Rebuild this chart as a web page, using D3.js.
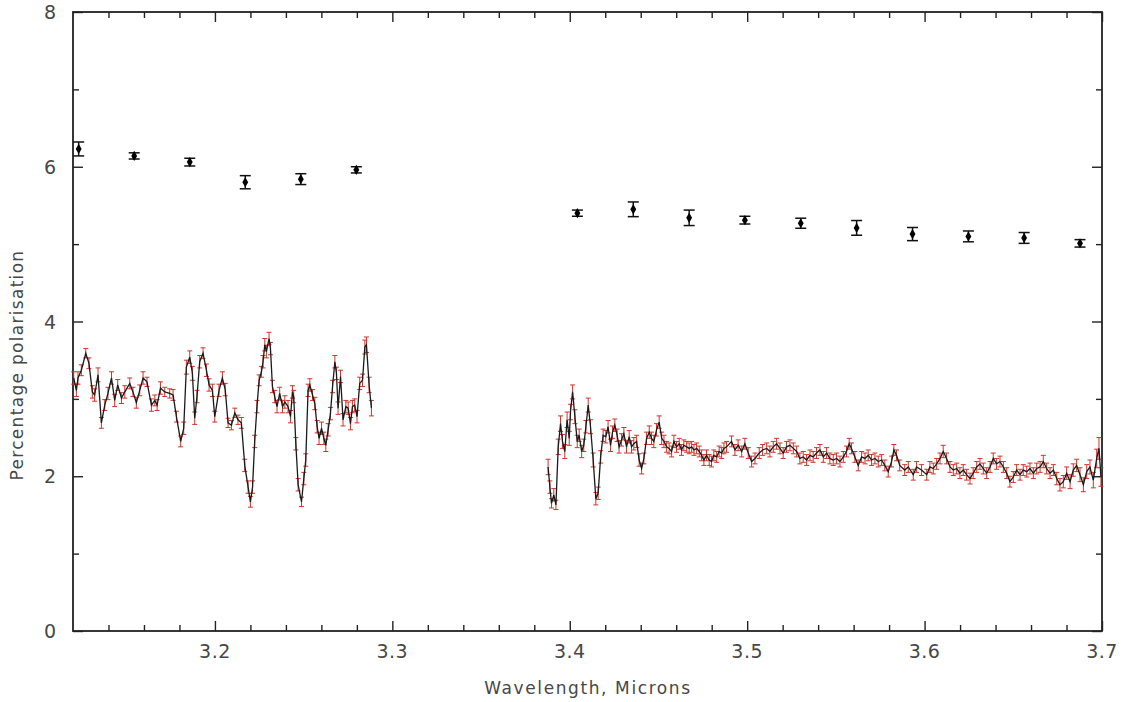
<!DOCTYPE html>
<html>
<head>
<meta charset="utf-8">
<script src="https://cdn.jsdelivr.net/npm/d3@7"></script>
<style>
  body { margin: 0; background: #fff; }
  text { font-family: "DejaVu Sans", sans-serif; fill: #474747; }
</style>
</head>
<body>
<script>
// binned polarisation: [wavelength, percent, error]
const binnedLeft = [
  [3.1232, 6.23, 0.09], [3.1545, 6.14, 0.04], [3.1858, 6.06, 0.05],
  [3.2171, 5.80, 0.085], [3.2484, 5.84, 0.07], [3.2797, 5.96, 0.04]
];
const binnedRight = [
  [3.4043, 5.40, 0.04], [3.4358, 5.45, 0.095], [3.4673, 5.34, 0.10],
  [3.4987, 5.31, 0.05], [3.5302, 5.27, 0.065], [3.5617, 5.21, 0.095],
  [3.5932, 5.13, 0.085], [3.6247, 5.10, 0.07], [3.6561, 5.08, 0.07],
  [3.6876, 5.01, 0.048]
];

// full resolution spectrum: [wavelength, percent, error]
const specLeft = [
  [3.1204,3.27,0.08],[3.1219,3.11,0.08],[3.1228,3.27,0.08],[3.1247,3.37,0.07],[3.1272,3.59,0.06],
  [3.1290,3.46,0.07],[3.1309,3.09,0.08],[3.1322,3.05,0.08],[3.1341,3.31,0.09],[3.1360,2.69,0.07],
  [3.1379,2.92,0.07],[3.1397,3.07,0.08],[3.1417,3.27,0.08],[3.1435,2.98,0.08],[3.1452,3.18,0.07],
  [3.1473,3.01,0.07],[3.1492,3.09,0.08],[3.1520,3.20,0.07],[3.1538,3.09,0.06],[3.1557,2.95,0.07],
  [3.1576,3.11,0.07],[3.1595,3.27,0.08],[3.1617,3.22,0.06],[3.1642,2.92,0.08],[3.1661,2.98,0.07],
  [3.1674,2.92,0.07],[3.1693,3.14,0.08],[3.1717,3.09,0.06],[3.1745,3.07,0.06],[3.1764,3.05,0.07],
  [3.1783,2.77,0.07],[3.1807,2.45,0.07],[3.1824,2.62,0.08],[3.1839,3.41,0.09],[3.1858,3.54,0.08],
  [3.1873,3.33,0.09],[3.1886,2.75,0.08],[3.1899,3.03,0.08],[3.1914,3.48,0.08],[3.1933,3.59,0.07],
  [3.1952,3.37,0.08],[3.1967,3.18,0.08],[3.1986,3.11,0.08],[3.1999,2.77,0.07],[3.2023,3.11,0.08],
  [3.2042,3.27,0.08],[3.2058,3.12,0.08],[3.2074,2.69,0.06],[3.2093,2.66,0.06],[3.2112,2.82,0.06],
  [3.2130,2.73,0.06],[3.2149,2.69,0.07],[3.2168,2.14,0.08],[3.2187,1.86,0.08],[3.2200,1.67,0.07],
  [3.2212,1.86,0.08],[3.2224,2.45,0.08],[3.2237,2.90,0.08],[3.2249,3.24,0.07],[3.2262,3.35,0.07],
  [3.2271,3.48,0.08],[3.2281,3.70,0.08],[3.2290,3.61,0.08],[3.2305,3.78,0.08],[3.2313,3.65,0.08],
  [3.2324,3.16,0.08],[3.2337,3.03,0.08],[3.2350,2.90,0.08],[3.2365,3.07,0.08],[3.2381,2.90,0.08],
  [3.2394,2.96,0.08],[3.2412,2.90,0.08],[3.2426,2.77,0.08],[3.2437,3.09,0.08],[3.2444,3.03,0.08],
  [3.2456,2.42,0.08],[3.2469,1.89,0.08],[3.2488,1.67,0.06],[3.2501,1.97,0.08],[3.2512,2.21,0.08],
  [3.2525,3.11,0.08],[3.2535,3.18,0.08],[3.2550,3.05,0.07],[3.2563,2.94,0.08],[3.2576,2.64,0.08],
  [3.2587,2.49,0.08],[3.2601,2.62,0.08],[3.2614,2.49,0.08],[3.2625,2.40,0.08],[3.2638,2.60,0.08],
  [3.2651,2.81,0.08],[3.2663,3.16,0.08],[3.2676,3.48,0.08],[3.2685,3.33,0.08],[3.2694,2.88,0.08],
  [3.2708,3.29,0.08],[3.2722,2.73,0.08],[3.2738,2.90,0.08],[3.2751,2.88,0.08],[3.2764,2.68,0.08],
  [3.2775,2.90,0.08],[3.2788,2.92,0.08],[3.2801,2.77,0.08],[3.2816,3.20,0.08],[3.2832,3.24,0.08],
  [3.2845,3.67,0.09],[3.2854,3.70,0.10],[3.2869,3.18,0.10],[3.2882,2.88,0.10]
];

const specRight = [
  [3.3878,2.12,0.10],[3.3888,1.86,0.08],[3.3897,1.65,0.06],[3.3910,1.76,0.08],[3.3922,1.63,0.06],
  [3.3935,2.38,0.10],[3.3948,2.68,0.10],[3.3959,2.45,0.09],[3.3972,2.32,0.09],[3.3985,2.73,0.10],
  [3.3997,2.49,0.09],[3.4004,2.83,0.10],[3.4016,3.09,0.09],[3.4029,2.77,0.09],[3.4042,2.45,0.08],
  [3.4053,2.53,0.08],[3.4067,2.32,0.08],[3.4079,2.40,0.08],[3.4091,2.64,0.08],[3.4104,2.92,0.09],
  [3.4117,2.64,0.09],[3.4132,2.21,0.09],[3.4147,1.71,0.08],[3.4160,1.78,0.08],[3.4174,2.25,0.08],
  [3.4188,2.53,0.08],[3.4203,2.51,0.08],[3.4216,2.64,0.08],[3.4230,2.40,0.08],[3.4241,2.57,0.08],
  [3.4254,2.66,0.08],[3.4267,2.53,0.08],[3.4278,2.38,0.08],[3.4292,2.47,0.08],[3.4305,2.55,0.08],
  [3.4320,2.38,0.08],[3.4335,2.51,0.08],[3.4348,2.38,0.08],[3.4361,2.42,0.08],[3.4377,2.45,0.08],
  [3.4391,2.21,0.08],[3.4405,2.10,0.07],[3.4418,2.23,0.07],[3.4433,2.49,0.08],[3.4448,2.57,0.08],
  [3.4461,2.49,0.08],[3.4474,2.45,0.08],[3.4489,2.60,0.08],[3.4504,2.70,0.08],[3.4518,2.49,0.08],
  [3.4531,2.45,0.08],[3.4546,2.38,0.07],[3.4560,2.36,0.07],[3.4574,2.32,0.07],[3.4587,2.45,0.08],
  [3.4602,2.38,0.07],[3.4617,2.42,0.07],[3.4630,2.34,0.07],[3.4643,2.40,0.07],[3.4659,2.38,0.07],
  [3.4673,2.36,0.07],[3.4687,2.38,0.07],[3.4700,2.34,0.07],[3.4715,2.36,0.07],[3.4730,2.32,0.07],
  [3.4743,2.27,0.07],[3.4756,2.21,0.07],[3.4771,2.27,0.07],[3.4786,2.21,0.07],[3.4799,2.19,0.07],
  [3.4812,2.27,0.07],[3.4828,2.25,0.07],[3.4842,2.32,0.07],[3.4856,2.30,0.07],[3.4869,2.36,0.07],
  [3.4884,2.38,0.07],[3.4912,2.45,0.07],[3.4931,2.34,0.07],[3.4949,2.40,0.07],[3.4969,2.32,0.07],
  [3.4987,2.42,0.07],[3.5006,2.30,0.07],[3.5025,2.19,0.07],[3.5044,2.23,0.07],[3.5068,2.30,0.07],
  [3.5087,2.34,0.07],[3.5110,2.36,0.07],[3.5128,2.32,0.07],[3.5147,2.38,0.07],[3.5166,2.42,0.07],
  [3.5185,2.36,0.07],[3.5203,2.30,0.07],[3.5222,2.38,0.07],[3.5241,2.40,0.07],[3.5260,2.36,0.07],
  [3.5279,2.32,0.07],[3.5297,2.23,0.07],[3.5316,2.25,0.07],[3.5335,2.21,0.07],[3.5354,2.27,0.07],
  [3.5372,2.25,0.07],[3.5391,2.30,0.07],[3.5410,2.34,0.07],[3.5429,2.25,0.07],[3.5448,2.30,0.07],
  [3.5466,2.23,0.07],[3.5485,2.21,0.07],[3.5504,2.23,0.07],[3.5523,2.19,0.07],[3.5542,2.25,0.07],
  [3.5560,2.32,0.07],[3.5575,2.42,0.07],[3.5588,2.36,0.07],[3.5607,2.25,0.07],[3.5626,2.14,0.07],
  [3.5645,2.25,0.07],[3.5664,2.23,0.07],[3.5682,2.27,0.07],[3.5701,2.21,0.07],[3.5720,2.23,0.07],
  [3.5739,2.19,0.07],[3.5758,2.21,0.07],[3.5776,2.14,0.07],[3.5795,2.06,0.07],[3.5814,2.19,0.07],
  [3.5827,2.34,0.07],[3.5842,2.27,0.07],[3.5860,2.14,0.07],[3.5888,2.08,0.07],[3.5908,2.12,0.07],
  [3.5936,2.02,0.07],[3.5955,2.12,0.07],[3.5983,2.08,0.07],[3.6012,2.02,0.07],[3.6030,2.12,0.07],
  [3.6049,2.10,0.07],[3.6068,2.16,0.07],[3.6087,2.23,0.07],[3.6105,2.32,0.08],[3.6124,2.23,0.07],
  [3.6143,2.12,0.07],[3.6162,2.08,0.07],[3.6181,2.10,0.07],[3.6199,2.04,0.07],[3.6218,2.08,0.07],
  [3.6237,2.02,0.07],[3.6256,1.97,0.07],[3.6274,2.04,0.07],[3.6294,2.12,0.07],[3.6312,2.16,0.07],
  [3.6331,2.10,0.07],[3.6350,2.04,0.07],[3.6369,2.12,0.07],[3.6387,2.23,0.07],[3.6406,2.16,0.07],
  [3.6425,2.19,0.07],[3.6444,2.12,0.07],[3.6463,2.04,0.07],[3.6481,1.93,0.07],[3.6500,1.99,0.07],
  [3.6519,2.08,0.07],[3.6538,2.02,0.07],[3.6556,2.08,0.07],[3.6576,2.06,0.07],[3.6594,2.10,0.07],
  [3.6613,2.04,0.07],[3.6632,2.10,0.07],[3.6651,2.12,0.07],[3.6669,2.19,0.08],[3.6688,2.10,0.07],
  [3.6707,2.04,0.07],[3.6726,2.08,0.07],[3.6745,1.97,0.08],[3.6763,1.89,0.08],[3.6782,1.93,0.08],
  [3.6801,2.04,0.08],[3.6820,1.93,0.09],[3.6838,2.08,0.08],[3.6857,2.14,0.08],[3.6876,2.02,0.09],
  [3.6895,1.89,0.09],[3.6914,2.06,0.09],[3.6932,2.12,0.09],[3.6951,1.95,0.10],[3.6970,2.23,0.12],
  [3.6983,2.36,0.14],[3.6994,1.99,0.12]
];

const xTicks = [3.2, 3.3, 3.4, 3.5, 3.6, 3.7];
const yTicks = [0, 2, 4, 6, 8];

const width = 1133, height = 702;
const margin = {top: 12, right: 31, bottom: 71, left: 73};

const svg = d3.select("body")
    .append("svg")
    .attr("width", width)
    .attr("height", height);

const x = d3.scaleLinear()
    .domain([3.12, 3.7])
    .range([margin.left, width - margin.right]);

const y = d3.scaleLinear()
    .domain([0, 8])
    .range([height - margin.bottom, margin.top]);

const x0 = margin.left, x1 = width - margin.right;
const y0 = height - margin.bottom, y1 = margin.top;

// ticks, all pointing inward, on every side
const xMinor = d3.range(3.14, 3.7, 0.02).filter(v => Math.abs(v * 10 - Math.round(v * 10)) > 0.01);
const yMinor = [1, 3, 5, 7];

function drawTicks(g, axisFn, scale, values, size, pos) {
    g.append("g")
        .attr("transform", pos)
        .call(axisFn(scale).tickValues(values).tickSize(size).tickFormat(""))
        .call(a => a.select(".domain").remove())
        .selectAll("line").attr("stroke", "#222").attr("stroke-width", 1.4);
}

const axes = svg.append("g");
drawTicks(axes, d3.axisBottom, x, xTicks, -10, `translate(0,${y0})`);
drawTicks(axes, d3.axisBottom, x, xMinor, -6, `translate(0,${y0})`);
drawTicks(axes, d3.axisTop, x, xTicks, -10, `translate(0,${y1})`);
drawTicks(axes, d3.axisTop, x, xMinor, -6, `translate(0,${y1})`);
drawTicks(axes, d3.axisLeft, y, yTicks, -10, `translate(${x0},0)`);
drawTicks(axes, d3.axisLeft, y, yMinor, -6, `translate(${x0},0)`);
drawTicks(axes, d3.axisRight, y, yTicks, -10, `translate(${x1},0)`);
drawTicks(axes, d3.axisRight, y, yMinor, -6, `translate(${x1},0)`);

// frame
svg.append("rect")
    .attr("x", x0).attr("y", y1)
    .attr("width", x1 - x0).attr("height", y0 - y1)
    .attr("fill", "none")
    .attr("stroke", "#222")
    .attr("stroke-width", 1.8);

// tick labels
svg.selectAll(".xlab")
    .data(xTicks)
    .enter()
    .append("text")
    .attr("class", "xlab")
    .attr("x", d => x(d))
    .attr("y", y0 + 27)
    .attr("text-anchor", "middle")
    .style("font-size", "19px")
    .style("letter-spacing", "0.5px")
    .text(d => d.toFixed(1));

svg.selectAll(".ylab")
    .data(yTicks)
    .enter()
    .append("text")
    .attr("class", "ylab")
    .attr("x", x0 - 23)
    .attr("y", d => y(d) + 7)
    .attr("text-anchor", "middle")
    .style("font-size", "19px")
    .text(d => d);

// axis titles
svg.append("text")
    .attr("x", 588)
    .attr("y", height - 8)
    .attr("text-anchor", "middle")
    .style("font-size", "17px")
    .style("letter-spacing", "1.6px")
    .text("Wavelength, Microns");

svg.append("text")
    .attr("transform", "translate(23,365) rotate(-90)")
    .attr("text-anchor", "middle")
    .style("font-size", "17px")
    .style("letter-spacing", "1.3px")
    .text("Percentage polarisation");

// spectrum: red error bars, black line
const line = d3.line()
    .x(d => x(d[0]))
    .y(d => y(d[1]));

const red = "#d0342c";
[specLeft, specRight].forEach(seg => {
    const eb = svg.append("g");
    eb.selectAll("line.bar")
        .data(seg)
        .enter()
        .append("line")
        .attr("x1", d => x(d[0])).attr("x2", d => x(d[0]))
        .attr("y1", d => y(d[1] - d[2])).attr("y2", d => y(d[1] + d[2]))
        .attr("stroke", red).attr("stroke-width", 1);
    [-1, 1].forEach(s => {
        eb.selectAll(null)
            .data(seg)
            .enter()
            .append("line")
            .attr("x1", d => x(d[0]) - 2.5).attr("x2", d => x(d[0]) + 2.5)
            .attr("y1", d => y(d[1] + s * d[2])).attr("y2", d => y(d[1] + s * d[2]))
            .attr("stroke", red).attr("stroke-width", 1);
    });
    svg.append("path")
        .datum(seg)
        .attr("d", line)
        .attr("fill", "none")
        .attr("stroke", "#1a1a1a")
        .attr("stroke-width", 1.3);
});

// binned points: black error bars with caps and diamond markers
const binned = binnedLeft.concat(binnedRight);
const bg = svg.append("g");
bg.selectAll("line.ebar")
    .data(binned)
    .enter()
    .append("line")
    .attr("x1", d => x(d[0])).attr("x2", d => x(d[0]))
    .attr("y1", d => y(d[1] - d[2])).attr("y2", d => y(d[1] + d[2]))
    .attr("stroke", "#111").attr("stroke-width", 1.5);
[-1, 1].forEach(s => {
    bg.selectAll(null)
        .data(binned)
        .enter()
        .append("line")
        .attr("x1", d => x(d[0]) - 5.5).attr("x2", d => x(d[0]) + 5.5)
        .attr("y1", d => y(d[1] + s * d[2])).attr("y2", d => y(d[1] + s * d[2]))
        .attr("stroke", "#111").attr("stroke-width", 1.5);
});
bg.selectAll("path.dia")
    .data(binned)
    .enter()
    .append("path")
    .attr("d", d3.symbol(d3.symbolDiamond, 30))
    .attr("transform", d => `translate(${x(d[0])},${y(d[1])})`)
    .attr("fill", "#000");
</script>
</body>
</html>
